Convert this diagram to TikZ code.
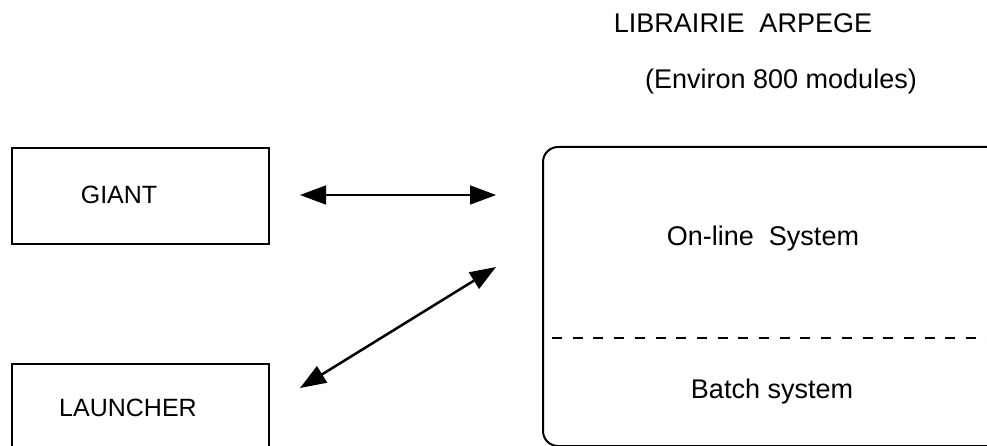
\documentclass[tikz,border=0pt]{standalone}
\usepackage{fontspec}
\setmainfont{Liberation Sans}
\usetikzlibrary{arrows.meta}
\tikzset{
  plainbox/.style={draw, line width=1.6pt, inner sep=0pt, anchor=north west},
  boxlabel/.style={font=\fontsize{25}{30}\selectfont},
  syslabel/.style={font=\fontsize{27}{32}\selectfont},
  biarrow/.style={{Triangle[length=26pt, width=19pt]}-{Triangle[length=26pt, width=19pt]}},
}

\begin{document}
\begin{tikzpicture}[x=1pt, y=-1pt]

    % Frame
    \useasboundingbox (0, 0) rectangle (987, 446);

    % Title
    \node[syslabel] (title) at (743, 23) {LIBRAIRIE~ ARPEGE};
    \node[syslabel] (count) at (781, 82) {(Environ 800 modules)};

    % Left boxes
    \node[plainbox, minimum width=257pt, minimum height=96pt] (giant) at (11, 147) {};
    \node[boxlabel] (giantlabel) at (119, 195) {GIANT};
    \node[plainbox, minimum width=257pt, minimum height=110pt] (launcher) at (11, 363) {};
    \node[boxlabel] (launcherlabel) at (128, 408) {LAUNCHER};

    % Library
    \node[plainbox, line width=2pt, rounded corners=15pt, minimum width=560pt, minimum height=299pt] (arpege) at (542, 146) {};
    \coordinate (split) at (552, 338);
    \draw[line width=2.5pt, dash pattern=on 10pt off 10.7pt] (split) -- (split -| arpege.east);
    \node[syslabel] (online) at (763, 239) {On-line~ System};
    \node[syslabel] (batch) at (772, 392) {Batch system};

    % Links
    \coordinate (giantend) at (300, 195);
    \coordinate (onlineend) at (496, 195);
    \coordinate (launcherend) at (300, 388);
    \coordinate (diagend) at (496, 267);
    \draw[biarrow, line width=1.6pt] (giantend) -- (onlineend);
    \draw[biarrow, line width=2.5pt] (launcherend) -- (diagend);

\end{tikzpicture}
\end{document}
